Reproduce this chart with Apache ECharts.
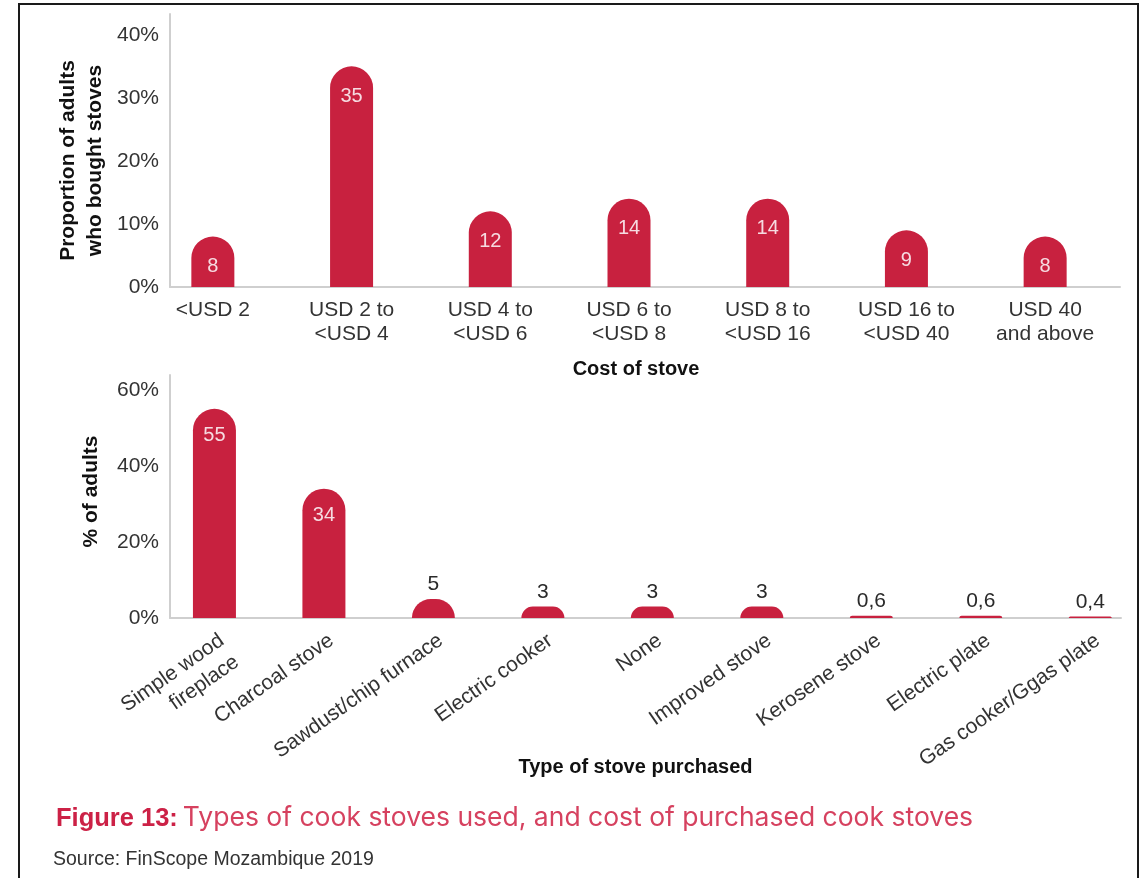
<!DOCTYPE html>
<html>
<head>
<meta charset="utf-8">
<script src="https://cdn.jsdelivr.net/npm/echarts@6/dist/echarts.min.js"></script>
<style>
  html, body { margin: 0; padding: 0; background: #fff; }
  #chart { position: absolute; left: 0; top: 0; width: 1145px; height: 878px; }
  #frame { position: absolute; left: 18px; top: 3px; width: 1117px; height: 900px;
           border: 2px solid #1a1a1a; pointer-events: none; }
</style>
</head>
<body>
<div id="chart"></div>
<div id="frame"></div>
<script>
// cost of purchased stove (top panel)
const costCategories = ['<USD 2', 'USD 2 to\n<USD 4', 'USD 4 to\n<USD 6', 'USD 6 to\n<USD 8',
  'USD 8 to\n<USD 16', 'USD 16 to\n<USD 40', 'USD 40\nand above'];
const costValues = [8, 35, 12, 14, 14, 9, 8];

// type of stove purchased (bottom panel)
const stoveTypes = ['Simple wood\nfireplace', 'Charcoal stove', 'Sawdust/chip furnace', 'Electric cooker',
  'None', 'Improved stove', 'Kerosene stove', 'Electric plate', 'Gas cooker/Ggas plate'];
const stoveValues = [55, 34, 5, 3, 3, 3, 0.6, 0.6, 0.4];

const barColor = '#c8213f';
const font = 'Liberation Sans, Arial, sans-serif';
const axisGrey = '#cfcfcf';

const chart = echarts.init(document.getElementById('chart'));

function fmt(v) {
  return String(v).replace('.', ',');
}

const stoveData = stoveValues.map(v => ({
  value: v,
  label: v >= 20
    ? { position: 'insideTop', distance: 17, color: '#f6dbe1', fontSize: 20 }
    : { position: 'top', distance: 4, color: '#2a2a2a', fontSize: 21 }
}));

const topMax = 43.3, bottomMax = 63.9;

chart.setOption({
  animation: false,
  textStyle: { fontFamily: font },
  title: [
    {
      left: 56, top: 805, padding: 0,
      text: '{b|Figure 13:} {n|Types of cook stoves used, and cost of purchased cook stoves}',
      textStyle: {
        rich: {
          b: { fontSize: 25.5, fontWeight: 'bold', color: '#cc2146', fontFamily: font },
          n: { fontSize: 26.5, fontWeight: 'normal', color: '#d6415f', fontFamily: 'Inter, Liberation Sans, sans-serif' }
        }
      }
    },
    {
      left: 53, top: 850, padding: 0,
      text: 'Source: FinScope Mozambique 2019',
      textStyle: { fontSize: 19.5, fontWeight: 'normal', color: '#333', fontFamily: font }
    }
  ],
  grid: [
    { left: 170, top: 14, width: 950, height: 273 },
    { left: 143.5, top: 14, width: 971, height: 273 },
    { left: 170, top: 375, width: 951, height: 243 },
    { left: 159.7, top: 375, width: 986, height: 243 }
  ],
  xAxis: [
    {
      gridIndex: 0, type: 'category', data: costCategories,
      axisLine: { lineStyle: { color: axisGrey, width: 2 } },
      axisTick: { show: false }, axisLabel: { show: false },
      name: 'Cost of stove', nameLocation: 'middle', nameGap: 68.5, nameMoveOverlap: false,
      nameTextStyle: { fontSize: 20, fontWeight: 'bold', color: '#111', lineHeight: 27, padding: [0, 18, 0, 0] }
    },
    {
      gridIndex: 1, type: 'category', data: costCategories,
      axisLine: { show: false }, axisTick: { show: false },
      axisLabel: { interval: 0, fontSize: 21, color: '#333', lineHeight: 24, margin: 11 }
    },
    {
      gridIndex: 2, type: 'category', data: stoveTypes,
      axisLine: { lineStyle: { color: axisGrey, width: 2 } },
      axisTick: { show: false }, axisLabel: { show: false },
      name: 'Type of stove purchased', nameLocation: 'middle', nameGap: 135.5, nameMoveOverlap: false,
      nameTextStyle: { fontSize: 20, fontWeight: 'bold', color: '#111', lineHeight: 27, padding: [0, 20, 0, 0] }
    },
    {
      gridIndex: 3, type: 'category', data: stoveTypes,
      axisLine: { show: false }, axisTick: { show: false },
      axisLabel: { interval: 0, rotate: 35, fontSize: 21, color: '#333', lineHeight: 26, margin: 10, verticalAlign: 'top' }
    }
  ],
  yAxis: [
    {
      gridIndex: 0, type: 'value', min: 0, max: topMax, interval: 10,
      axisLine: { show: true, lineStyle: { color: axisGrey, width: 2 } },
      axisTick: { show: false }, splitLine: { show: false },
      axisLabel: { formatter: '{value}%', fontSize: 21, color: '#333', margin: 11, showMaxLabel: false },
      name: 'Proportion of adults\nwho bought stoves', nameLocation: 'middle', nameGap: 61, nameMoveOverlap: false,
      nameTextStyle: { fontSize: 21, fontWeight: 'bold', color: '#111', lineHeight: 27, padding: [0, 20, 0, 0] }
    },
    { gridIndex: 1, type: 'value', min: 0, max: topMax, show: false },
    {
      gridIndex: 2, type: 'value', min: 0, max: bottomMax, interval: 20,
      axisLine: { show: true, lineStyle: { color: axisGrey, width: 2 } },
      axisTick: { show: false }, splitLine: { show: false },
      axisLabel: { formatter: '{value}%', fontSize: 21, color: '#333', margin: 11, showMaxLabel: false },
      name: '% of adults', nameLocation: 'middle', nameGap: 65, nameMoveOverlap: false,
      nameTextStyle: { fontSize: 21, fontWeight: 'bold', color: '#111', lineHeight: 27, padding: [0, 0, 0, 10] }
    },
    { gridIndex: 3, type: 'value', min: 0, max: bottomMax, show: false }
  ],
  series: [
    {
      type: 'bar', xAxisIndex: 1, yAxisIndex: 1, data: costValues,
      barWidth: 43,
      itemStyle: { color: barColor, borderRadius: [21.5, 21.5, 0, 0] },
      label: { show: true, position: 'insideTop', distance: 20, color: '#f6dbe1', fontSize: 20, formatter: p => fmt(p.value) }
    },
    {
      type: 'bar', xAxisIndex: 3, yAxisIndex: 3, data: stoveData,
      barWidth: 43,
      itemStyle: { color: barColor, borderRadius: [21.5, 21.5, 0, 0] },
      label: { show: true, formatter: p => fmt(p.value) }
    }
  ]
});
</script>
</body>
</html>
